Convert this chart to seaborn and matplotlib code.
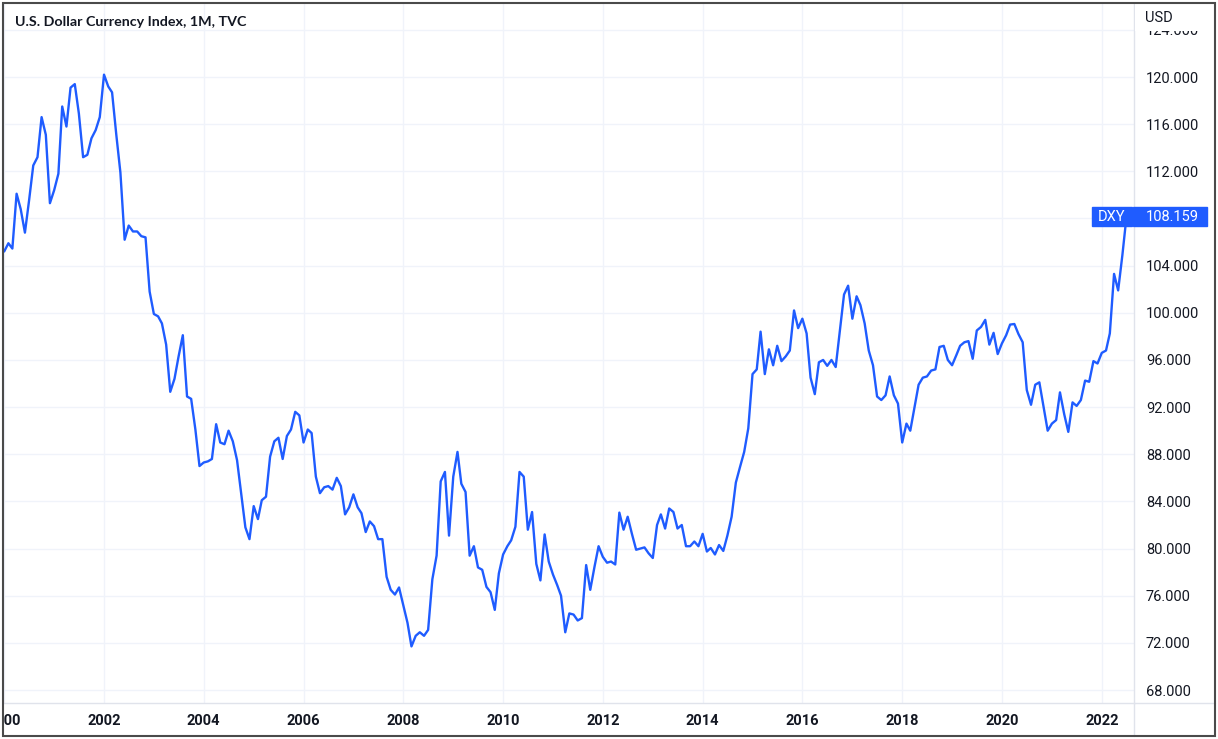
import numpy as np
import pandas as pd
import matplotlib
matplotlib.use("Agg")
import matplotlib.pyplot as plt
import matplotlib.dates as mdates
from matplotlib.patches import Rectangle
from matplotlib.lines import Line2D
from matplotlib import transforms
import seaborn as sns

# monthly DXY closes (Jan 2000 onwards)
dxy_2000_2003 = [105.2, 105.9, 105.45, 110.1, 108.8, 106.8, 109.5, 112.5, 113.2, 116.6, 115.1, 109.3,
                 110.4, 111.8, 117.5, 115.8, 119.1, 119.4, 116.9, 113.2, 113.4, 114.8, 115.5, 116.6,
                 120.2, 119.2, 118.7, 115.1, 111.9, 106.2, 107.4, 106.9, 106.9, 106.5, 106.4, 101.8,
                 99.9, 99.7, 99.1, 97.3, 93.3, 94.4, 96.3, 98.1, 92.9, 92.7, 90.1, 87.0]
dxy_2004_2007 = [87.3, 87.4, 87.6, 90.55, 89.0, 88.85, 90.0, 89.1, 87.5, 84.7, 81.8, 80.8,
                 83.6, 82.5, 84.1, 84.4, 87.8, 89.1, 89.4, 87.6, 89.55, 90.1, 91.6, 91.3,
                 89.0, 90.1, 89.8, 86.1, 84.7, 85.2, 85.3, 85.0, 86.0, 85.3, 82.9, 83.5,
                 84.6, 83.5, 83.0, 81.4, 82.3, 81.9, 80.8, 80.8, 77.6, 76.5, 76.1, 76.7]
dxy_2008_2011 = [75.2, 73.7, 71.7, 72.6, 72.9, 72.6, 73.1, 77.4, 79.4, 85.7, 86.5, 81.1,
                 86.1, 88.2, 85.5, 84.8, 79.4, 80.2, 78.4, 78.2, 76.75, 76.3, 74.8, 77.9,
                 79.5, 80.2, 80.7, 81.85, 86.5, 86.1, 81.6, 83.1, 78.7, 77.3, 81.2, 78.9,
                 77.8, 76.9, 76.0, 72.9, 74.5, 74.4, 73.9, 74.1, 78.6, 76.5, 78.45, 80.2]
dxy_2012_2015 = [79.3, 78.8, 78.9, 78.65, 83.05, 81.6, 82.7, 81.25, 79.9, 80.0, 80.1, 79.6,
                 79.2, 82.0, 82.9, 81.7, 83.4, 83.1, 81.7, 82.0, 80.2, 80.2, 80.6, 80.2,
                 81.25, 79.75, 80.05, 79.5, 80.3, 79.8, 81.1, 82.7, 85.6, 86.9, 88.2, 90.2,
                 94.8, 95.2, 98.4, 94.8, 96.9, 95.55, 97.2, 95.9, 96.3, 96.8, 100.2, 98.7]
dxy_2016_2019 = [99.5, 98.25, 94.5, 93.1, 95.8, 96.0, 95.5, 96.0, 95.4, 98.4, 101.55, 102.3,
                 99.5, 101.4, 100.65, 99.1, 96.8, 95.55, 92.9, 92.6, 93.0, 94.6, 93.0, 92.3,
                 89.0, 90.6, 90.0, 92.0, 93.9, 94.5, 94.6, 95.1, 95.2, 97.1, 97.2, 96.0,
                 95.55, 96.4, 97.2, 97.5, 97.6, 96.1, 98.5, 98.8, 99.4, 97.3, 98.3, 96.5]
dxy_2020_2022 = [97.4, 98.1, 99.0, 99.05, 98.2, 97.5, 93.45, 92.2, 93.9, 94.1, 92.0, 90.0,
                 90.6, 90.9, 93.25, 91.4, 89.9, 92.4, 92.1, 92.6, 94.25, 94.15, 95.9, 95.7,
                 96.6, 96.8, 98.25, 103.3, 101.9, 104.9, 108.159]

y_ticks = [68, 72, 76, 80, 84, 88, 92, 96, 100, 104, 108, 112, 116, 120, 124]
title = "U.S. Dollar Currency Index, 1M, TVC"
symbol = "DXY"
currency = "USD"

values = dxy_2000_2003 + dxy_2004_2007 + dxy_2008_2011 + dxy_2012_2015 + dxy_2016_2019 + dxy_2020_2022
df = pd.DataFrame({"date": pd.date_range("2000-01-01", periods=len(values), freq="MS"),
                   "dxy": values})
last = values[-1]

BLUE = "#1f5cff"
TXT = "#131722"
GRID = "#f0f3fa"
SEP = "#e0e3eb"

sns.set_style("white")
plt.rcParams["font.family"] = ["Roboto", "DejaVu Sans"]

W, H = 1218, 739
fig = plt.figure(figsize=(W / 100, H / 100), dpi=100)
ax = fig.add_axes([4 / W, 1 - 703 / H, (1134 - 4) / W, (703 - 3) / H])

sns.lineplot(data=df, x="date", y="dxy", ax=ax, color=BLUE, linewidth=1.7)

ax.set_xlim(mdates.date2num(pd.Timestamp("1999-12-30 19:00")),
            mdates.date2num(pd.Timestamp("2022-08-25")))
ax.set_ylim(66.9, 126.28)

ax.xaxis.set_major_locator(mdates.YearLocator(2))
ax.xaxis.set_major_formatter(mdates.DateFormatter("%Y"))
ax.yaxis.tick_right()
ax.set_yticks(y_ticks)
# the 108 label sits under the last-price box, so it is left blank
ax.set_yticklabels(["" if abs(v - last) < 2 else f"{v:.3f}" for v in y_ticks])
ax.tick_params(axis="y", length=0, pad=8.5, labelsize=10.5, labelcolor=TXT)
ax.tick_params(axis="x", length=0, pad=8, labelsize=10.5, labelcolor=TXT)
for lab in ax.get_xticklabels():
    lab.set_fontweight("semibold")
ax.set_xlabel("")
ax.set_ylabel("")
ax.grid(True, color=GRID, linewidth=1)
for s in ["left", "top"]:
    ax.spines[s].set_visible(False)
for s in ["right", "bottom"]:
    ax.spines[s].set_color(SEP)
    ax.spines[s].set_linewidth(1)

# last price markers
blend = transforms.blended_transform_factory(ax.transAxes, ax.transData)
box_h = 19 / 11.79
ax.add_patch(Rectangle((0.9625, last - box_h / 2), 0.0355, box_h, transform=blend,
                       color=BLUE, clip_on=False, zorder=6))
ax.text(0.9805, last, symbol, transform=blend, color="white", fontsize=10.5,
        ha="center", va="center", zorder=7, clip_on=False)
ax.add_patch(Rectangle((0.9994, last - box_h / 2), 0.0655, box_h, transform=blend,
                       color=BLUE, clip_on=False, zorder=6))
ax.text(1.0106, last, f"{last:.3f}", transform=blend, color="white", fontsize=10.5,
        ha="left", va="center", zorder=7, clip_on=False)

# price scale extras
fig.add_artist(Line2D([1134 / W, 1215 / W], [1 - 703 / H] * 2, color=SEP, lw=1, zorder=3))
fig.add_artist(Line2D([1134 / W] * 2, [1 - 703 / H, 1 - 736 / H], color=SEP, lw=1, zorder=3))
fig.add_artist(Rectangle((1135 / W, 1 - 31 / H), (1214 - 1135) / W, 27 / H,
                         transform=fig.transFigure, facecolor="white", edgecolor="none", zorder=10))
fig.add_artist(Rectangle((0, 0), 4 / W, 1, transform=fig.transFigure,
                         facecolor="white", edgecolor="none", zorder=10))
fig.text(1145 / W, 1 - 18 / H, currency, fontsize=10.5, color=TXT, va="center", ha="left", zorder=11)

fig.text(15 / W, 1 - 22 / H, title, fontsize=10.3, fontweight="bold", color=TXT,
         va="center", ha="left", family=["Lato", "DejaVu Sans"], zorder=11)

fig.add_artist(Rectangle((3 / W, 1 - 736 / H), (1215 - 3) / W, (736 - 3) / H,
                         transform=fig.transFigure, fill=False, edgecolor="#4a4a4a",
                         linewidth=1.5, zorder=20))

fig.savefig("out.png", dpi=100, facecolor="white")
